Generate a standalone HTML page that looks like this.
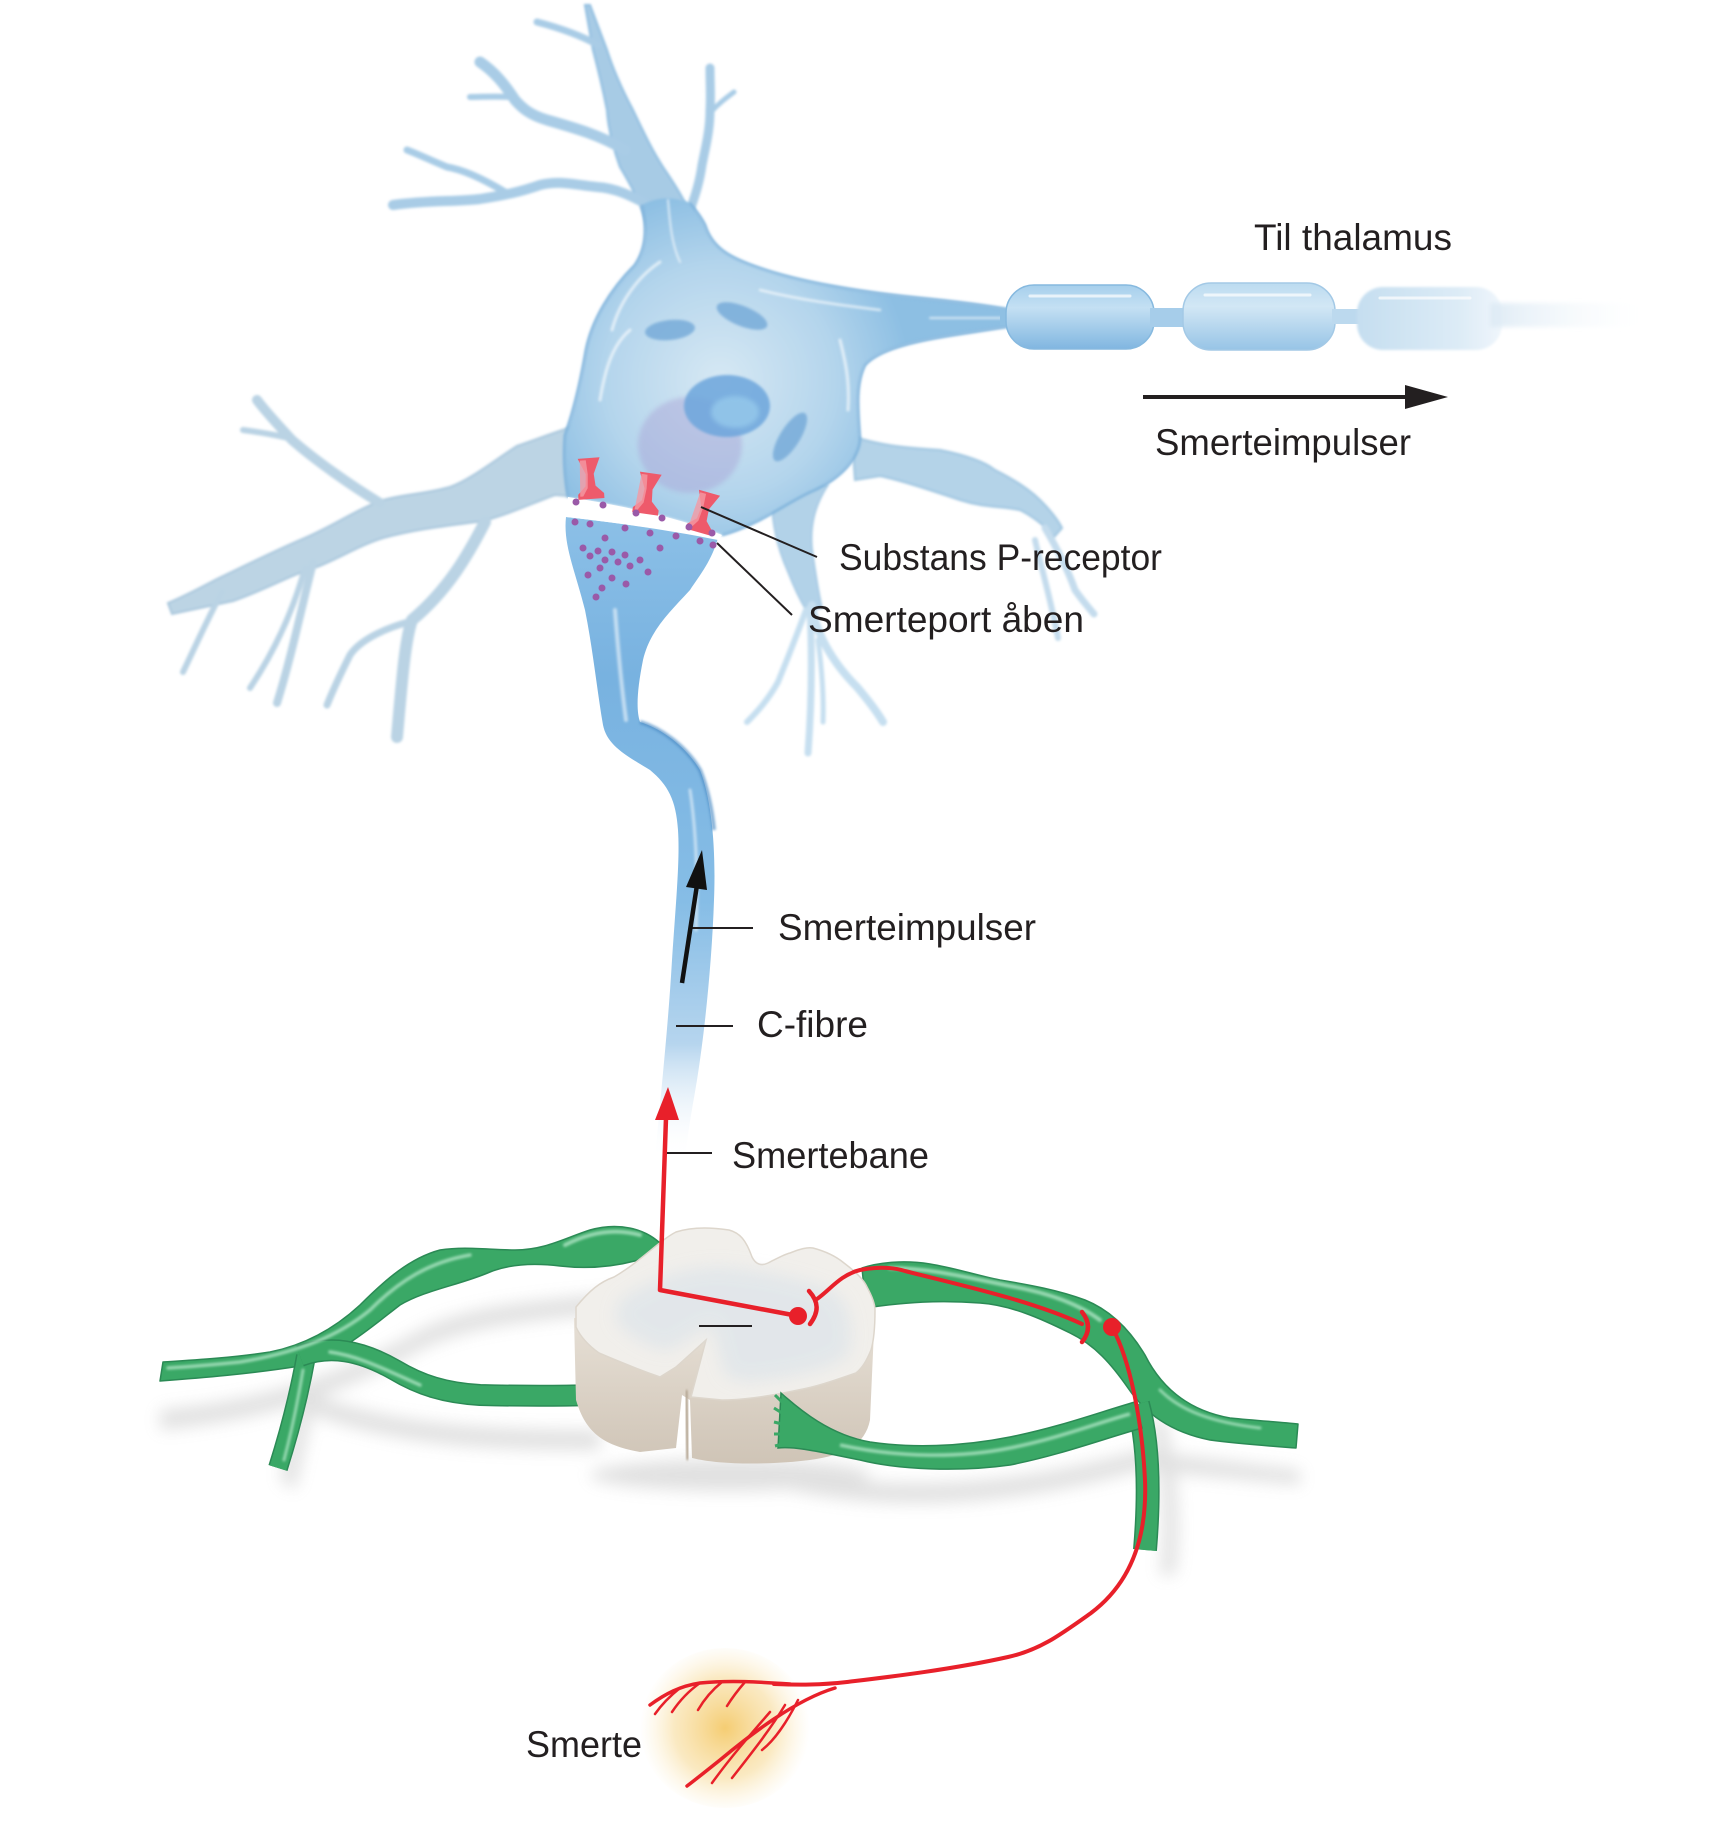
<!DOCTYPE html>
<html><head><meta charset="utf-8"><style>
html,body{margin:0;padding:0;background:#fff;}
svg{display:block;}
text{font-family:"Liberation Sans",sans-serif;font-size:37px;fill:#231f20;}
</style></head><body>
<svg width="1720" height="1821" viewBox="0 0 1720 1821" xmlns="http://www.w3.org/2000/svg">
<defs>
<filter id="b1" x="-20%" y="-20%" width="140%" height="140%"><feGaussianBlur stdDeviation="1.2"/></filter>
<filter id="b2" x="-20%" y="-20%" width="140%" height="140%"><feGaussianBlur stdDeviation="2.5"/></filter>
<filter id="b6" x="-30%" y="-30%" width="160%" height="160%"><feGaussianBlur stdDeviation="8"/></filter>
<filter id="b12" x="-50%" y="-50%" width="200%" height="200%"><feGaussianBlur stdDeviation="12"/></filter>
<radialGradient id="soma" cx="720" cy="380" r="190" gradientUnits="userSpaceOnUse">
<stop offset="0" stop-color="#d6e8f4"/><stop offset="0.6" stop-color="#b4d5ec"/><stop offset="1" stop-color="#8dbfe3"/></radialGradient>
<linearGradient id="term" x1="0" y1="515" x2="0" y2="1160" gradientUnits="userSpaceOnUse">
<stop offset="0" stop-color="#8cc0e7"/><stop offset="0.25" stop-color="#78b2e0"/><stop offset="0.6" stop-color="#86bde6"/><stop offset="0.82" stop-color="#b6d5ee"/><stop offset="1" stop-color="#ffffff" stop-opacity="0"/></linearGradient>
<linearGradient id="seg1" x1="0" y1="285" x2="0" y2="350" gradientUnits="userSpaceOnUse">
<stop offset="0" stop-color="#a6cfec"/><stop offset="0.35" stop-color="#c4e0f3"/><stop offset="1" stop-color="#7fb5e0"/></linearGradient>
<linearGradient id="seg2" x1="0" y1="283" x2="0" y2="350" gradientUnits="userSpaceOnUse">
<stop offset="0" stop-color="#bcdbf0"/><stop offset="0.35" stop-color="#d2e7f5"/><stop offset="1" stop-color="#97c4e6"/></linearGradient>
<linearGradient id="seg3" x1="1357" y1="0" x2="1500" y2="0" gradientUnits="userSpaceOnUse">
<stop offset="0" stop-color="#c5def0"/><stop offset="0.7" stop-color="#dcebf6"/><stop offset="1" stop-color="#eef5fb"/></linearGradient>
<linearGradient id="tail" x1="1480" y1="0" x2="1660" y2="0" gradientUnits="userSpaceOnUse">
<stop offset="0" stop-color="#dbe9f4"/><stop offset="1" stop-color="#ffffff" stop-opacity="0"/></linearGradient>
<radialGradient id="glow" cx="725" cy="1728" r="85" gradientUnits="userSpaceOnUse">
<stop offset="0" stop-color="#f3c45a" stop-opacity="0.85"/><stop offset="0.6" stop-color="#f6d486" stop-opacity="0.5"/><stop offset="1" stop-color="#fbe7b8" stop-opacity="0"/></radialGradient>
<linearGradient id="cordside" x1="0" y1="1320" x2="0" y2="1465" gradientUnits="userSpaceOnUse">
<stop offset="0" stop-color="#e6dfd5"/><stop offset="1" stop-color="#cfc4b6"/></linearGradient>
</defs>

<!-- ========== NEURON DENDRITES ========== -->
<g filter="url(#b1)">
<!-- top trunk -->
<path d="M652,255 C650,225 640,200 620,167 C612,145 608,125 607,110 C602,85 597,65 593,50 L585,5 L590,5 L607,50 C615,75 625,95 633,110 C645,135 652,150 663,167 C675,185 690,205 704,250 Z" fill="#a7cbe5" stroke="#8fbde0" stroke-width="2"/>
<g fill="none" stroke="#a9cce6" stroke-linecap="round" stroke-linejoin="round">
<path d="M598,45 C580,35 560,28 537,22" stroke-width="7"/>
<path d="M625,150 C600,135 575,128 547,120 C530,115 522,108 515,100 C505,85 495,72 480,62" stroke-width="11"/>
<path d="M510,97 C495,96 482,97 470,97" stroke-width="6"/>
<path d="M652,207 C630,195 615,188 597,187 C575,185 560,180 540,185 C520,192 505,195 480,199 C455,202 430,200 393,205" stroke-width="10"/>
<path d="M505,192 C485,180 465,170 447,167 C430,160 420,155 407,150" stroke-width="7"/>
<path d="M688,215 C696,195 700,180 702,165 C706,145 710,130 710,110 C711,95 710,85 710,68" stroke-width="9"/>
<path d="M711,112 C718,104 726,98 734,92" stroke-width="5"/>
</g>
<!-- left dendrite -->
<path d="M578,425 C555,432 535,440 517,446 C495,460 470,480 450,487 C425,494 405,494 383,500 C355,510 330,528 300,540 C270,553 240,568 217,579 C200,588 185,596 168,603 L172,614 C190,610 210,606 233,601 C265,590 290,575 317,567 C340,558 360,545 383,538 C420,528 455,525 483,521 C510,514 535,502 555,495 L580,497 Z" fill="#bcd4e4" stroke="#a8c6dc" stroke-width="2"/>
<g fill="none" stroke="#bad3e4" stroke-linecap="round" stroke-linejoin="round">
<path d="M380,503 C350,485 315,460 292,440 C278,425 266,412 257,400" stroke-width="10"/>
<path d="M288,438 C272,434 258,432 243,430" stroke-width="6"/>
<path d="M313,563 C302,605 292,655 277,703" stroke-width="8"/>
<path d="M305,568 C292,615 272,655 250,688" stroke-width="6"/>
<path d="M222,592 C207,620 196,645 183,672" stroke-width="6"/>
<path d="M485,522 C468,555 448,590 412,620 C405,640 402,680 397,737" stroke-width="12"/>
<path d="M412,621 C385,628 360,640 350,655 C340,675 333,690 327,705" stroke-width="7"/>
</g>
<!-- right dendrite -->
<path d="M852,436 C880,446 910,448 940,450 C965,455 985,462 995,470 C1015,480 1030,490 1040,500 C1050,510 1058,520 1062,528 L1054,537 C1045,525 1030,515 1020,510 C1000,506 985,508 960,500 C930,490 900,480 880,476 L855,480 Z" fill="#b4d3e8" stroke="#9fc5e0" stroke-width="2"/>
<g fill="none" stroke="#c4dced" stroke-linecap="round">
<path d="M1045,528 C1058,550 1068,570 1075,590 C1082,600 1088,607 1094,614" stroke-width="7"/>
<path d="M1035,540 C1042,570 1052,605 1058,638" stroke-width="6"/>
</g>
<!-- lower dendrite under soma -->
<path d="M772,488 C770,520 778,550 788,572 C795,590 800,600 806,610 L822,608 C818,590 815,570 812,548 C810,525 815,505 828,485 Z" fill="#b2d2e8" stroke="#a0c6e2" stroke-width="1.5"/>
<g fill="none" stroke="#c6dff0" stroke-linecap="round">
<path d="M812,605 C815,630 830,660 857,687 C868,700 876,710 883,722" stroke-width="8"/>
<path d="M810,608 C812,650 812,700 808,753" stroke-width="7"/>
<path d="M806,610 C795,640 785,665 778,682 C768,700 757,712 747,722" stroke-width="6"/>
<path d="M818,640 C822,670 824,695 823,722" stroke-width="5"/>
</g>
</g>

<!-- ========== SOMA ========== -->
<path d="M642,205 C648,232 645,250 635,265 C610,290 592,320 586,350 C580,385 574,410 565,435 C563,460 565,480 568,497 C620,505 680,518 722,535 C760,525 790,500 815,490 C840,478 858,460 860,440 C858,410 855,385 865,365 C880,348 920,340 960,334 C985,330 1000,328 1012,326 L1012,310 C990,306 960,302 920,298 C860,292 800,282 760,268 C730,258 712,248 705,225 C700,215 695,210 690,203 C672,196 656,197 642,205 Z" fill="url(#soma)" filter="url(#b1)"/>
<g fill="none" stroke="#7fb3dc" stroke-width="2.5" filter="url(#b1)">
<path d="M642,205 C648,232 645,250 635,265 C610,290 592,320 586,350 C580,385 574,410 565,435 C563,460 565,480 568,497"/>
<path d="M722,535 C760,525 790,500 815,490 C840,478 858,460 860,440 C858,410 855,385 865,365 C880,348 920,340 960,334 C985,330 1000,328 1012,326"/>
<path d="M1012,310 C990,306 960,302 920,298 C860,292 800,282 760,268 C730,258 712,248 705,225 C700,215 695,210 690,203"/>
</g>
<!-- golgi / organelles -->
<ellipse cx="690" cy="445" rx="52" ry="48" fill="#a9a3d6" opacity="0.45" filter="url(#b2)"/>
<ellipse cx="727" cy="406" rx="43" ry="31" fill="#6da6dc" opacity="0.85" filter="url(#b1)"/>
<ellipse cx="735" cy="412" rx="24" ry="16" fill="#93c6ea" opacity="0.9" filter="url(#b2)"/>
<ellipse cx="670" cy="330" rx="25" ry="10" transform="rotate(-6 670 330)" fill="#78acd9" opacity="0.85" filter="url(#b1)"/>
<ellipse cx="742" cy="316" rx="27" ry="10" transform="rotate(22 742 316)" fill="#78acd9" opacity="0.85" filter="url(#b1)"/>
<ellipse cx="790" cy="437" rx="10" ry="28" transform="rotate(32 790 437)" fill="#78acd9" opacity="0.85" filter="url(#b1)"/>
<!-- highlights -->
<g fill="none" stroke="#ffffff" stroke-linecap="round" opacity="0.65" filter="url(#b1)">
<path d="M612,330 C620,300 640,275 660,262" stroke-width="3"/>
<path d="M600,400 C605,370 612,345 630,330" stroke-width="3"/>
<path d="M760,290 C800,300 840,305 880,310" stroke-width="2.5"/>
<path d="M840,340 C845,360 850,380 848,410" stroke-width="3"/>
<path d="M668,200 C670,225 672,245 680,262" stroke-width="2"/>
<path d="M930,318 C960,318 985,318 1005,318" stroke-width="2"/>
</g>

<!-- ========== AXON / MYELIN ========== -->
<rect x="1000" y="309" width="30" height="16" fill="#8fc0e3"/>
<rect x="1006" y="285" width="148" height="64" rx="28" fill="url(#seg1)" stroke="#86b9df" stroke-width="1.5"/>
<rect x="1150" y="308" width="36" height="19" fill="#a6cdea"/>
<rect x="1183" y="283" width="152" height="67" rx="28" fill="url(#seg2)" stroke="#a3c9e6" stroke-width="1.5"/>
<rect x="1332" y="309" width="28" height="15" fill="#bcd9ee"/>
<rect x="1357" y="287" width="145" height="63" rx="26" fill="url(#seg3)" filter="url(#b1)"/>
<rect x="1490" y="303" width="170" height="24" fill="url(#tail)" filter="url(#b2)"/>
<g stroke="#ffffff" stroke-width="3" opacity="0.7" stroke-linecap="round">
<path d="M1030,296 L1130,296"/><path d="M1205,295 L1310,295"/><path d="M1380,298 L1470,298"/>
</g>

<!-- ========== TERMINAL + C-FIBRE ========== -->
<path d="M566,517 C610,522 670,530 718,538 C712,560 700,575 690,590 C670,612 650,630 643,660 C637,690 636,710 640,722 C660,728 685,745 700,770 C712,800 716,850 714,900 C712,960 705,1030 697,1080 C692,1110 688,1130 685,1160 L655,1160 C660,1100 668,1030 672,960 C676,900 680,860 678,830 C676,800 668,785 650,770 C625,755 607,745 603,725 C597,690 593,650 585,610 C575,570 563,545 566,517 Z" fill="url(#term)"/>
<path d="M640,722 C660,728 685,745 700,770 C708,790 712,810 714,830" fill="none" stroke="#4f8ec6" stroke-width="4" opacity="0.7" filter="url(#b1)"/>
<g fill="none" stroke="#ffffff" opacity="0.55" stroke-linecap="round" filter="url(#b1)">
<path d="M615,610 C618,650 622,690 626,720" stroke-width="4"/>
<path d="M690,790 C696,830 698,880 696,930" stroke-width="3"/>
</g>

<!-- synaptic cleft -->
<path d="M568,497 C620,505 680,518 722,535 L718,540 C670,530 610,522 566,517 Z" fill="#ffffff"/>
<!-- receptors -->
<g fill="#ee5a6b">
<path transform="translate(590,478) rotate(-4)" d="M-11,-20 L11,-20 L4,-4 L5,8 L13,16 L13,21 L-13,21 L-13,16 L-5,8 L-4,-4 Z"/>
<path transform="translate(648,493) rotate(8)" d="M-11,-20 L11,-20 L4,-4 L5,8 L13,16 L13,21 L-13,21 L-13,16 L-5,8 L-4,-4 Z"/>
<path transform="translate(704,512) rotate(16)" d="M-11,-20 L11,-20 L4,-4 L5,8 L13,16 L13,21 L-13,21 L-13,16 L-5,8 L-4,-4 Z"/>
</g>
<g fill="#f59aa4" opacity="0.8">
<path transform="translate(590,478) rotate(-4)" d="M-9,-18 L-3,-18 L-2,-4 L-3,10 L-8,18 L-11,18 Z"/>
<path transform="translate(648,493) rotate(8)" d="M-9,-18 L-3,-18 L-2,-4 L-3,10 L-8,18 L-11,18 Z"/>
<path transform="translate(704,512) rotate(16)" d="M-9,-18 L-3,-18 L-2,-4 L-3,10 L-8,18 L-11,18 Z"/>
</g>
<!-- vesicles -->
<g fill="#9a5aa8">
<circle cx="576" cy="502" r="3.5"/><circle cx="603" cy="505" r="3.5"/><circle cx="636" cy="513" r="3.5"/><circle cx="662" cy="518" r="3.5"/>
<circle cx="689" cy="527" r="3.5"/><circle cx="712" cy="533" r="3.5"/>
<circle cx="575" cy="522" r="3.5"/><circle cx="590" cy="524" r="3.5"/><circle cx="625" cy="528" r="3.5"/><circle cx="650" cy="533" r="3.5"/>
<circle cx="676" cy="536" r="3.5"/><circle cx="700" cy="541" r="3.5"/><circle cx="713" cy="545" r="3.5"/>
<circle cx="583" cy="548" r="3.5"/><circle cx="590" cy="556" r="3.5"/><circle cx="598" cy="551" r="3.5"/><circle cx="605" cy="560" r="3.5"/>
<circle cx="612" cy="552" r="3.5"/><circle cx="618" cy="562" r="3.5"/><circle cx="625" cy="555" r="3.5"/><circle cx="630" cy="566" r="3.5"/>
<circle cx="600" cy="568" r="3.5"/><circle cx="588" cy="575" r="3.5"/><circle cx="612" cy="578" r="3.5"/><circle cx="626" cy="584" r="3.5"/>
<circle cx="602" cy="588" r="3.5"/><circle cx="640" cy="560" r="3.5"/><circle cx="605" cy="538" r="3.5"/><circle cx="660" cy="548" r="3.5"/>
<circle cx="648" cy="572" r="3.5"/><circle cx="596" cy="597" r="3.5"/>
</g>

<!-- ========== LEADER LINES & ARROWS (top) ========== -->
<g stroke="#231f20" stroke-width="2" fill="none">
<line x1="701" y1="507" x2="817" y2="557"/>
<line x1="717" y1="543" x2="792" y2="615"/>
<line x1="692" y1="928" x2="753" y2="928"/>
<line x1="676" y1="1026" x2="733" y2="1026"/>
<line x1="665" y1="1153" x2="712" y2="1153"/>
</g>
<line x1="1143" y1="397" x2="1412" y2="397" stroke="#231f20" stroke-width="4"/>
<polygon points="1405,385 1448,397 1405,409" fill="#231f20"/>
<line x1="682" y1="983" x2="697" y2="885" stroke="#111" stroke-width="4.5"/>
<polygon points="702,850 707,890 686,887" fill="#111"/>

<!-- ========== LOWER: shadows ========== -->
<g fill="#8c8c8c" opacity="0.26" filter="url(#b6)">
<path d="M160,1410 C260,1400 330,1380 420,1330 C480,1300 560,1300 640,1290 L640,1310 C560,1320 480,1320 420,1350 C330,1400 260,1420 160,1430 Z"/>
<path d="M300,1390 C380,1420 450,1430 600,1430 L600,1450 C450,1450 380,1440 300,1410 Z"/>
<path d="M280,1480 L300,1400 L315,1400 L295,1490 Z"/>
<ellipse cx="730" cy="1475" rx="140" ry="16"/>
<path d="M790,1470 C880,1490 1000,1490 1140,1450 L1300,1470 L1300,1485 L1140,1470 C1000,1510 880,1510 790,1490 Z"/>
<path d="M1150,1420 C1165,1480 1165,1540 1160,1575 L1175,1575 C1180,1540 1180,1480 1165,1420 Z"/>
</g>

<!-- ========== GREEN NERVES (back) ========== -->
<g stroke="#2b8a55" stroke-width="1.5" stroke-linejoin="round">
<path d="M662,1245 C645,1228 618,1222 590,1230 C565,1238 545,1250 515,1250 C490,1250 465,1246 440,1250 C410,1258 385,1280 360,1305 C335,1328 305,1345 270,1352 C230,1358 195,1360 163,1362 L160,1381 C200,1378 250,1374 300,1366 C340,1355 370,1328 400,1305 C425,1290 460,1285 490,1272 C510,1264 535,1263 560,1266 C595,1270 630,1265 662,1252 Z" fill="#3aa866"/>
<path d="M862,1268 C880,1262 905,1260 930,1264 C955,1268 975,1275 1000,1280 C1030,1285 1058,1290 1085,1300 C1110,1310 1130,1330 1145,1355 C1160,1385 1185,1410 1230,1418 C1260,1421 1280,1422 1298,1424 L1296,1448 C1270,1446 1240,1444 1210,1440 C1170,1432 1145,1413 1128,1388 C1112,1365 1095,1345 1070,1333 C1040,1318 1010,1305 980,1303 C940,1300 905,1302 866,1308 Z" fill="#3aa866"/>
</g>
<g fill="none" stroke-linecap="butt">
<path d="M306,1356 C300,1390 290,1430 278,1468" stroke="#2b8a55" stroke-width="20"/>
<path d="M306,1356 C300,1390 290,1430 278,1468" stroke="#3aa866" stroke-width="17"/>
<path d="M300,1356 C330,1345 360,1350 395,1370 C420,1385 445,1393 480,1395 C520,1396 560,1396 592,1395" stroke="#2b8a55" stroke-width="22"/>
<path d="M300,1356 C330,1345 360,1350 395,1370 C420,1385 445,1393 480,1395 C520,1396 560,1396 592,1395" stroke="#3aa866" stroke-width="19"/>
<path d="M1138,1404 C1148,1440 1150,1490 1145,1550" stroke="#2b8a55" stroke-width="24"/>
<path d="M1138,1404 C1148,1440 1150,1490 1145,1550" stroke="#3aa866" stroke-width="21"/>
</g>
<g fill="none" stroke="#3aa866" stroke-width="3">
<path d="M585,1392 L607,1378"/><path d="M585,1394 L607,1387"/><path d="M585,1396 L607,1396"/><path d="M585,1398 L607,1405"/><path d="M585,1400 L607,1413"/>
</g>
<g fill="none" stroke="#a8e2bf" stroke-linecap="round" opacity="0.85" filter="url(#b1)">
<path d="M640,1235 C615,1228 590,1232 565,1245" stroke-width="4"/>
<path d="M470,1255 C430,1262 400,1280 370,1310 C340,1335 300,1352 240,1362 C210,1365 185,1367 168,1368" stroke-width="3.5"/>
<path d="M330,1352 C360,1356 390,1372 420,1385" stroke-width="3.5"/>
<path d="M303,1370 C298,1400 292,1430 284,1460" stroke-width="3"/>
<path d="M890,1268 C930,1268 970,1278 1010,1286 C1050,1293 1080,1305 1100,1320" stroke-width="4"/>
<path d="M1160,1390 C1180,1410 1210,1422 1260,1428" stroke-width="3"/>
</g>

<!-- ========== SPINAL CORD ========== -->
<path d="M574,1318 L576,1400 C585,1430 600,1445 640,1452 L676,1448 L682,1395 L690,1400 L692,1458 C720,1465 770,1465 810,1460 C845,1455 865,1445 870,1420 L874,1330 Z" fill="url(#cordside)"/>
<path d="M686,1390 L688,1460" stroke="#b8aa98" stroke-width="4" filter="url(#b1)"/>
<path d="M576,1307 C590,1290 600,1282 614,1277 C640,1262 660,1240 676,1232 C695,1226 715,1228 729,1230 C740,1233 746,1240 752,1257 C756,1265 762,1266 768,1263 C778,1258 785,1254 790,1253 C800,1249 807,1247 813,1248 C828,1252 838,1258 844,1263 C856,1272 864,1280 867,1287 C873,1298 875,1305 875,1310 C875,1325 874,1340 871,1350 C866,1362 862,1368 856,1373 C830,1382 815,1387 798,1390 C770,1396 745,1400 722,1400 L691,1397 L706,1340 L676,1367 L660,1377 C640,1370 620,1362 599,1353 C588,1345 580,1336 576,1327 Z" fill="#f1efeb" stroke="#ddd6cc" stroke-width="1.5"/>
<path d="M620,1300 C650,1280 690,1262 735,1268 C770,1272 800,1278 830,1290 C850,1300 855,1330 848,1355 C830,1370 790,1378 745,1382 L725,1375 L712,1325 L670,1350 C650,1350 628,1335 615,1320 Z" fill="#dfe5ea" opacity="0.8" filter="url(#b6)"/>
<line x1="699" y1="1326" x2="752" y2="1326" stroke="#231f20" stroke-width="2"/>

<!-- right lower green (front of cord) -->
<path d="M781,1393 C800,1410 830,1435 870,1442 C910,1448 960,1447 1010,1437 C1060,1427 1100,1412 1135,1402 L1142,1428 C1100,1440 1060,1455 1010,1465 C960,1472 900,1470 860,1460 C820,1452 795,1446 778,1448 Z" fill="#3aa866" stroke="#2b8a55" stroke-width="1.5"/>
<g fill="none" stroke="#3aa866" stroke-width="3">
<path d="M790,1410 L775,1395"/><path d="M790,1418 L774,1408"/><path d="M790,1426 L774,1422"/><path d="M790,1434 L774,1434"/><path d="M790,1442 L775,1446"/>
</g>
<path d="M840,1445 C900,1458 960,1458 1010,1448 C1060,1438 1100,1422 1130,1414" fill="none" stroke="#a8e2bf" stroke-width="3.5" opacity="0.85" filter="url(#b1)"/>

<!-- ========== RED PAIN PATHWAY ========== -->
<ellipse cx="725" cy="1728" rx="85" ry="80" fill="url(#glow)"/>
<g fill="none" stroke="#e8202a" stroke-linecap="round" stroke-linejoin="round">
<path d="M666,1118 L660,1290 L798,1316" stroke-width="4.5"/>
<path d="M817,1299 C830,1290 840,1275 860,1270 C880,1266 895,1268 905,1271 C960,1285 1030,1300 1082,1324" stroke-width="4"/>
<path d="M809,1291 C819,1302 819,1312 810,1324" stroke-width="4.5"/>
<path d="M1082,1312 C1090,1322 1090,1332 1082,1342" stroke-width="4.5"/>
<path d="M1112,1327 C1130,1360 1142,1420 1145,1480 C1147,1530 1135,1580 1091,1613 C1060,1635 1040,1650 1008,1657 C950,1670 880,1678 847,1682 C820,1685 800,1685 774,1684" stroke-width="4"/>
<path d="M790,1684 C760,1682 730,1680 700,1683 C680,1686 665,1694 650,1705" stroke-width="3.5"/>
<path d="M700,1683 C690,1690 680,1700 672,1712" stroke-width="2.5"/>
<path d="M722,1682 C712,1690 705,1698 698,1710" stroke-width="2.5"/>
<path d="M745,1682 C738,1690 732,1698 727,1706" stroke-width="2.5"/>
<path d="M680,1688 C670,1696 662,1704 655,1714" stroke-width="2.5"/>
<path d="M835,1688 C795,1700 750,1735 720,1760 C705,1772 695,1780 687,1786" stroke-width="3.5"/>
<path d="M770,1712 C750,1735 730,1758 712,1783" stroke-width="2.5"/>
<path d="M785,1705 C770,1730 750,1755 732,1778" stroke-width="2.5"/>
<path d="M798,1700 C788,1720 775,1740 762,1750" stroke-width="2.5"/>
</g>
<polygon points="668,1087 679,1120 655,1120" fill="#e8202a"/>
<circle cx="798" cy="1316" r="9" fill="#e8202a"/>
<circle cx="1112" cy="1327" r="9" fill="#e8202a"/>

<!-- ========== TEXT ========== -->
<text x="1254" y="250" textLength="198" lengthAdjust="spacingAndGlyphs">Til thalamus</text>
<text x="1155" y="455" textLength="256" lengthAdjust="spacingAndGlyphs">Smerteimpulser</text>
<text x="839" y="570" textLength="323" lengthAdjust="spacingAndGlyphs">Substans P-receptor</text>
<text x="808" y="632" textLength="276" lengthAdjust="spacingAndGlyphs">Smerteport åben</text>
<text x="778" y="940" textLength="258" lengthAdjust="spacingAndGlyphs">Smerteimpulser</text>
<text x="757" y="1037" textLength="111" lengthAdjust="spacingAndGlyphs">C-fibre</text>
<text x="732" y="1168" textLength="197" lengthAdjust="spacingAndGlyphs">Smertebane</text>
<text x="526" y="1757" textLength="116" lengthAdjust="spacingAndGlyphs">Smerte</text>
</svg>
</body></html>
